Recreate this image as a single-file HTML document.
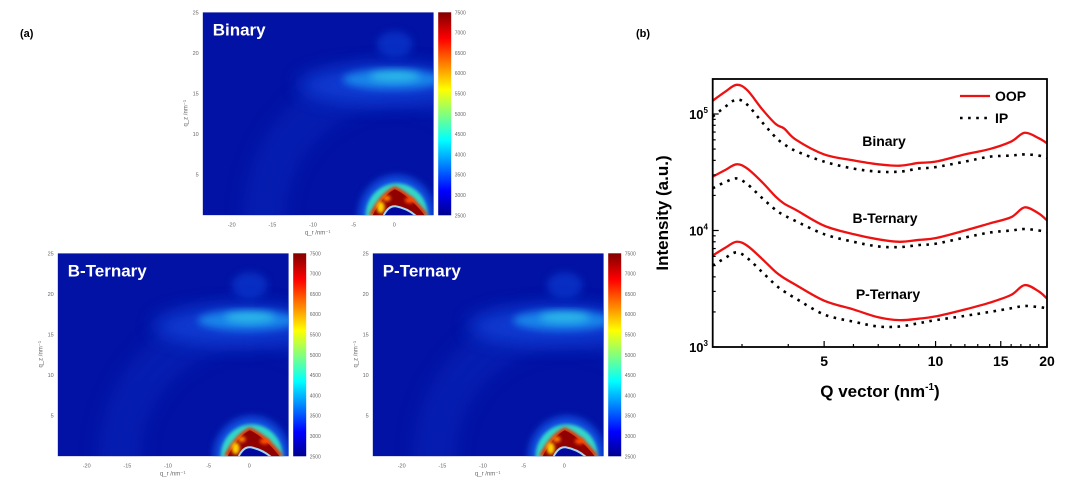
<!DOCTYPE html>
<html><head><meta charset="utf-8"><style>
html,body{margin:0;padding:0;background:#fff;width:1078px;height:499px;overflow:hidden}
svg{position:absolute;left:0;top:0;display:block}
text{font-family:"Liberation Sans",sans-serif}
</style></head><body>
<svg id="s" width="1078" height="499" viewBox="0 0 1078 499">
<defs>
<linearGradient id="jet" x1="0" y1="1" x2="0" y2="0">
<stop offset="0" stop-color="#00008f"/><stop offset="0.12" stop-color="#0000ff"/>
<stop offset="0.37" stop-color="#00ffff"/><stop offset="0.62" stop-color="#ffff00"/>
<stop offset="0.87" stop-color="#ff0000"/><stop offset="1" stop-color="#800000"/>
</linearGradient>
<filter id="b4" x="-50%" y="-50%" width="200%" height="200%"><feGaussianBlur stdDeviation="4"/></filter>
<filter id="b8" x="-50%" y="-50%" width="200%" height="200%"><feGaussianBlur stdDeviation="9"/></filter>
<filter id="b2" x="-50%" y="-50%" width="200%" height="200%"><feGaussianBlur stdDeviation="1.5"/></filter>
<clipPath id="pc"><rect x="0" y="0" width="231" height="203"/></clipPath>
<g id="heat" clip-path="url(#pc)">
<rect x="0" y="0" width="231" height="203" fill="#0212a4"/>
<circle cx="192" cy="203" r="130" fill="none" stroke="#0a30c8" stroke-width="45" opacity="0.35" filter="url(#b8)"/>
<ellipse cx="180" cy="72" rx="85" ry="20" fill="#1250e8" opacity="0.6" filter="url(#b8)"/>
<ellipse cx="190" cy="67" rx="50" ry="10" fill="#1a98f0" opacity="0.8" filter="url(#b4)"/>
<ellipse cx="192" cy="64" rx="25" ry="5" fill="#30c8e8" opacity="0.8" filter="url(#b4)"/>
<ellipse cx="192" cy="32" rx="18" ry="13" fill="#0a48e0" opacity="0.5" filter="url(#b4)"/>
<ellipse cx="194" cy="203" rx="38" ry="40" fill="#1460f0" opacity="0.8" filter="url(#b4)"/>
<ellipse cx="194" cy="203" rx="31" ry="32" fill="#30d8c8" filter="url(#b2)"/>
<path d="M166,203 Q178,180 192,174 Q208,180 226,203 Z" fill="#e83000" filter="url(#b2)"/>
<path d="M170,203 Q180,183 192,177 Q206,183 222,203 Z" fill="#900000"/>
<ellipse cx="178" cy="195" rx="4" ry="6" fill="#ffd000" filter="url(#b2)"/>
<ellipse cx="184" cy="186" rx="4" ry="3" fill="#ff8000" filter="url(#b2)"/>
<ellipse cx="207" cy="188" rx="5" ry="3" fill="#ff5000" filter="url(#b2)"/>
<path d="M180,203 Q185,192 193,193 Q205,195 214,203 Z" fill="#a8d8f0"/>
<path d="M182,203 Q187,194 193,195 Q203,197 211,203 Z" fill="#0008a0"/>
</g>
</defs>
<text x="20" y="37" font-size="11" font-weight="bold">(a)</text>
<text x="636" y="37" font-size="11" font-weight="bold">(b)</text>
<g id="panels"></g>
<g id="chart"></g>
</svg>
<script>
// ---------- Chart (b) data ----------
const qValues = [2.5,2.7,2.9,3.1,3.4,3.7,3.9,4.2,5,6,7,8,9,10,12,14,16,17.4,19,20];
const binaryOOP = [1.3e5,1.55e5,1.78e5,1.6e5,1.1e5,8.2e4,7.5e4,6e4,4.5e4,4.0e4,3.7e4,3.6e4,3.8e4,3.9e4,4.5e4,5e4,5.8e4,6.9e4,6.2e4,5.6e4];
const binaryIP = [9.5e4,1.15e5,1.33e5,1.2e5,8.5e4,6.3e4,5.5e4,4.8e4,3.9e4,3.4e4,3.2e4,3.2e4,3.4e4,3.5e4,3.9e4,4.3e4,4.4e4,4.5e4,4.4e4,4.2e4];
const bternOOP = [2.9e4,3.3e4,3.7e4,3.4e4,2.6e4,1.95e4,1.7e4,1.5e4,1.1e4,9.3e3,8.4e3,8e3,8.3e3,8.6e3,1.0e4,1.15e4,1.3e4,1.58e4,1.4e4,1.22e4];
const bternIP = [2.3e4,2.6e4,2.8e4,2.5e4,1.9e4,1.5e4,1.35e4,1.2e4,9.3e3,8e3,7.3e3,7.2e3,7.5e3,7.7e3,8.7e3,9.6e3,1.0e4,1.03e4,1.0e4,9.7e3];
const pternOOP = [6.1e3,7.1e3,8e3,7.4e3,5.7e3,4.4e3,3.9e3,3.4e3,2.5e3,2.1e3,1.8e3,1.7e3,1.75e3,1.83e3,2.1e3,2.4e3,2.8e3,3.4e3,3.0e3,2.6e3];
const pternIP = [5e3,5.8e3,6.5e3,5.8e3,4.4e3,3.4e3,3.0e3,2.6e3,1.9e3,1.65e3,1.5e3,1.5e3,1.6e3,1.7e3,1.85e3,2.0e3,2.15e3,2.25e3,2.2e3,2.15e3];
const xTicks = [5,10,15,20];
const yTicks = [3,4,5];
const seriesLabels = ["Binary","B-Ternary","P-Ternary"];
// ---------- Heatmap axes data ----------
const qxTicks = [-20,-15,-10,-5,0];
const qzTicks = [5,10,15,20,25];
const cbTicks = [7500,7000,6500,6000,5500,5000,4500,4000,3500,3000,2500];
const panelNames = ["Binary","B-Ternary","P-Ternary"];

const NS="http://www.w3.org/2000/svg";
function mk(tag,attrs,parent){const e=document.createElementNS(NS,tag);for(const k in attrs)e.setAttribute(k,attrs[k]);parent.appendChild(e);return e;}

// ---------- Panels ----------
const panelPos=[[202.7,12.3],[57.7,253.3],[372.7,253.3]];
const P=document.getElementById('panels');
panelPos.forEach((p,i)=>{
  const g=mk('g',{transform:`translate(${p[0]},${p[1]})`},P);
  
  
  const u=mk('use',{href:'#heat'},g);
  
  
  const fx=q=>191.6+q*8.13, fy=q=>203-q*8.12;
  qxTicks.forEach(t=>{const tx=mk('text',{x:fx(t),y:214,'font-size':5.5,fill:'#666','text-anchor':'middle'},g);tx.textContent=t;
    });
  qzTicks.forEach(t=>{const tx=mk('text',{x:-4,y:fy(t)+2,'font-size':5.5,fill:'#666','text-anchor':'end'},g);tx.textContent=t;
    });
  const yl=mk('text',{x:0,y:0,'font-size':6,fill:'#666','text-anchor':'middle',transform:'translate(-15,101) rotate(-90)'},g);
  yl.textContent='q_z /nm⁻¹';
  
  const xl=mk('text',{x:115,y:222,'font-size':6,fill:'#666','text-anchor':'middle'},g);
  xl.textContent='q_r /nm⁻¹';
  
  const nm=mk('text',{x:10,y:23,'font-size':17,'font-weight':'bold',fill:'#fff'},g);
  nm.textContent=panelNames[i];
  
  const cb=mk('rect',{x:235.5,y:0,width:13,height:203,fill:'url(#jet)'},g);
  
  cbTicks.forEach((t,k)=>{const tx=mk('text',{x:252,y:k*20.3+2,'font-size':5,fill:'#666'},g);tx.textContent=t;
    });
});

// ---------- Chart ----------
const C=document.getElementById('chart');
const X0=712.7,X1=1047,Y0=79,Y1=347;
const lx0=Math.log10(2.5),lx1=Math.log10(20);
const fx=q=>X0+(Math.log10(q)-lx0)/(lx1-lx0)*(X1-X0);
const fy=v=>347-(Math.log10(v)-3)*116.5;
function smooth(xs,ys){const p=xs.map((x,i)=>[fx(x),fy(ys[i])]);let d=`M${p[0][0]},${p[0][1]}`;
  for(let i=0;i<p.length-1;i++){const a=p[Math.max(0,i-1)],b=p[i],c=p[i+1],e=p[Math.min(p.length-1,i+2)];
    d+=` C${b[0]+(c[0]-a[0])/6},${b[1]+(c[1]-a[1])/6} ${c[0]-(e[0]-b[0])/6},${c[1]-(e[1]-b[1])/6} ${c[0]},${c[1]}`;}return d;}
const clip=mk('clipPath',{id:'cc'},C);mk('rect',{x:X0,y:Y0,width:X1-X0,height:Y1-Y0},clip);
const cg=mk('g',{'clip-path':'url(#cc)'},C);
[[binaryIP,'ip-binary'],[bternIP,'ip-b-ternary'],[pternIP,'ip-p-ternary']].forEach(([s,n])=>{
  const l=mk('path',{d:smooth(qValues,s),fill:'none',stroke:'#000','stroke-width':2.6,'stroke-dasharray':'2.6 5.5'},cg);
  });
[[binaryOOP,'oop-binary'],[bternOOP,'oop-b-ternary'],[pternOOP,'oop-p-ternary']].forEach(([s,n])=>{
  const l=mk('path',{d:smooth(qValues,s),fill:'none',stroke:'#ee1111','stroke-width':2.3},cg);
  });
const fr=mk('rect',{x:X0,y:Y0,width:X1-X0,height:Y1-Y0,fill:'none',stroke:'#000','stroke-width':1.8},C);

for(let q=3;q<=20;q++){const x=fx(q),maj=xTicks.includes(q);mk('line',{x1:x,x2:x,y1:Y1,y2:Y1-(maj?6:3),stroke:'#000','stroke-width':1.2},C);}
for(let d=3;d<5.3;d++)for(let m=1;m<10;m++){const v=m*Math.pow(10,d);if(v>1.95e5)break;const y=fy(v);
  mk('line',{x1:X0,x2:X0+(m==1?6:3),y1:y,y2:y,stroke:'#000','stroke-width':1.2},C);}
xTicks.forEach(t=>{const tx=mk('text',{x:fx(t),y:366,'font-size':14,'font-weight':'bold','text-anchor':'middle'},C);tx.textContent=t;
  });
yTicks.forEach(t=>{const tx=mk('text',{x:708,y:fy(Math.pow(10,t))+5,'font-size':13,'font-weight':'bold','text-anchor':'end'},C);
  tx.innerHTML='10<tspan font-size="8" dy="-6">'+t+'</tspan>';
  });
const xt=mk('text',{x:880,y:397,'font-size':17,'font-weight':'bold','text-anchor':'middle'},C);
xt.innerHTML='Q vector (nm<tspan font-size="10" dy="-7">-1</tspan><tspan dy="7">)</tspan>';

const yt=mk('text',{x:0,y:0,'font-size':17,'font-weight':'bold','text-anchor':'middle',transform:'translate(668,213) rotate(-90)'},C);
yt.textContent='Intensity (a.u.)';

[[884,146],[885,223],[888,299]].forEach((p,i)=>{const tx=mk('text',{x:p[0],y:p[1],'font-size':14,'font-weight':'bold','text-anchor':'middle'},C);
  tx.textContent=seriesLabels[i];});
const lg=mk('g',{},C);
mk('line',{x1:960,x2:990,y1:96,y2:96,stroke:'#ee1111','stroke-width':2.3},lg);
mk('line',{x1:960,x2:990,y1:118,y2:118,stroke:'#000','stroke-width':2.6,'stroke-dasharray':'2.6 5.5'},lg);
const t1=mk('text',{x:995,y:101,'font-size':14,'font-weight':'bold'},lg);t1.textContent='OOP';
const t2=mk('text',{x:995,y:123,'font-size':14,'font-weight':'bold'},lg);t2.textContent='IP';
</script>
</body></html>
